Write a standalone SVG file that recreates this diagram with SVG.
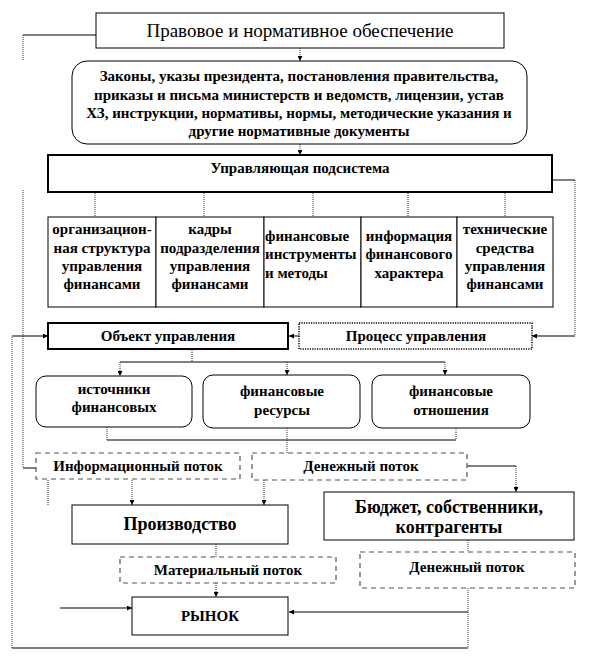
<svg xmlns="http://www.w3.org/2000/svg" width="600" height="660" viewBox="0 0 600 660">
<style>
text{font-family:"Liberation Serif","Times New Roman",serif;fill:#000;text-anchor:middle}
.b{font-weight:bold;font-size:15px}
.big{font-size:19px}
.bigb{font-size:18px;font-weight:bold}
.box{fill:#fff;stroke:#000;stroke-width:1}
.thick{fill:#fff;stroke:#000;stroke-width:2}
.dot{fill:#fff;stroke:#000;stroke-width:1.5;stroke-dasharray:1.2,1.2}
.dash{fill:#fff;stroke:#555;stroke-width:1.2;stroke-dasharray:5,4}
.c line,.c polyline{fill:none;stroke:#000;stroke-width:1}
.c .v{stroke-dasharray:1,1;stroke:#333}
</style>
<defs>
<marker id="a" viewBox="0 0 6 6" refX="6" refY="3" markerWidth="5" markerHeight="5" orient="auto" markerUnits="userSpaceOnUse"><path d="M0,0 L6,3 L0,6 z" fill="#000"/></marker>
<clipPath id="clip1"><rect x="36" y="376" width="156" height="48"/></clipPath>
</defs>

<g class="c" id="connectors">
<line class="v" x1="300" y1="48" x2="300" y2="61" marker-end="url(#a)"/>
<line class="v" x1="300" y1="144" x2="300" y2="155" marker-end="url(#a)"/>
<line x1="96" y1="35" x2="23" y2="35"/>
<line class="v" x1="23" y1="35" x2="23" y2="60"/>
<line class="v" x1="23" y1="190" x2="23" y2="468"/>
<line x1="23" y1="468" x2="36" y2="468"/>
<line x1="553" y1="180" x2="575" y2="180"/>
<line class="v" x1="575" y1="180" x2="575" y2="336"/>
<line x1="575" y1="336" x2="532" y2="336" marker-end="url(#a)"/>
<line x1="299" y1="336" x2="289" y2="336" marker-end="url(#a)"/>
<line class="v" x1="95" y1="193" x2="95" y2="217"/>
<line class="v" x1="204" y1="193" x2="204" y2="217"/>
<line class="v" x1="313" y1="193" x2="313" y2="217"/>
<line class="v" x1="408" y1="193" x2="408" y2="217"/>
<line class="v" x1="505" y1="193" x2="505" y2="217"/>
<line class="v" x1="468" y1="588" x2="468" y2="648"/>
<line x1="468" y1="648" x2="12" y2="648"/>
<line class="v" x1="12" y1="648" x2="12" y2="336"/>
<line x1="12" y1="336" x2="48" y2="336" marker-end="url(#a)"/>
<line x1="468" y1="612" x2="289" y2="612" marker-end="url(#a)"/>
<line x1="60" y1="608" x2="132" y2="608" marker-end="url(#a)"/>
<line class="v" x1="192" y1="350" x2="192" y2="362"/>
<line x1="120" y1="362" x2="445" y2="362"/>
<line class="v" x1="120" y1="362" x2="120" y2="376" marker-end="url(#a)"/>
<line class="v" x1="287" y1="362" x2="287" y2="375" marker-end="url(#a)"/>
<line class="v" x1="445" y1="362" x2="445" y2="375" marker-end="url(#a)"/>
<line class="v" x1="107" y1="427" x2="107" y2="440"/>
<line class="v" x1="456" y1="428" x2="456" y2="440"/>
<line x1="107" y1="440" x2="456" y2="440"/>
<line class="v" x1="287" y1="428" x2="287" y2="453"/>
<line class="v" x1="132" y1="480" x2="132" y2="505" marker-end="url(#a)"/>
<line class="v" x1="264" y1="480" x2="264" y2="505" marker-end="url(#a)"/>
<line class="v" x1="48" y1="480" x2="48" y2="505"/>
<line x1="467" y1="466" x2="516" y2="466"/>
<line class="v" x1="516" y1="466" x2="516" y2="492" marker-end="url(#a)"/>
<line class="v" x1="216" y1="544" x2="216" y2="557"/>
<line class="v" x1="216" y1="583" x2="216" y2="597" marker-end="url(#a)"/>
<line class="v" x1="468" y1="540" x2="468" y2="552"/>
</g>

<g id="n-pravovoe">
<rect class="box" x="96" y="13" width="408" height="35"/>
<text class="big" x="300" y="37">Правовое и нормативное обеспечение</text>
</g>

<g id="n-zakony">
<rect class="box" x="72" y="61" width="455" height="83" rx="15" ry="15"/>
<text class="b" x="299" y="81">Законы, указы  президента, постановления правительства,</text>
<text class="b" x="299" y="100">приказы и письма министерств и ведомств, лицензии, устав</text>
<text class="b" x="299" y="118">ХЗ, инструкции, нормативы, нормы, методические указания и</text>
<text class="b" x="299" y="136">другие нормативные документы</text>
</g>

<g id="n-upravl">
<rect class="thick" x="48" y="155" width="504" height="37"/>
<text class="b" x="300" y="173">Управляющая подсистема</text>
</g>

<g id="n-col1">
<rect class="box" x="48" y="217" width="108" height="90"/>
<text class="b" x="102" y="234">организацион-</text>
<text class="b" x="102" y="253">ная структура</text>
<text class="b" x="102" y="271">управления</text>
<text class="b" x="102" y="289">финансами</text>
</g>
<g id="n-col2">
<rect class="box" x="156" y="217" width="108" height="90"/>
<text class="b" x="210" y="234">кадры</text>
<text class="b" x="210" y="253">подразделения</text>
<text class="b" x="210" y="271">управления</text>
<text class="b" x="210" y="289">финансами</text>
</g>
<g id="n-col3">
<rect class="box" x="264" y="217" width="97" height="90"/>
<text class="b" x="265" y="241" style="text-anchor:start">финансовые</text>
<text class="b" x="265" y="259" style="text-anchor:start">инструменты</text>
<text class="b" x="265" y="278" style="text-anchor:start">и методы</text>
</g>
<g id="n-col4">
<rect class="box" x="361" y="217" width="96" height="90"/>
<text class="b" x="409" y="241">информация</text>
<text class="b" x="409" y="259">финансового</text>
<text class="b" x="409" y="278">характера</text>
</g>
<g id="n-col5">
<rect class="box" x="457" y="217" width="96" height="90"/>
<text class="b" x="505" y="234">технические</text>
<text class="b" x="505" y="253">средства</text>
<text class="b" x="505" y="271">управления</text>
<text class="b" x="505" y="289">финансами</text>
</g>

<g id="n-obekt">
<rect class="thick" x="48" y="323" width="240" height="26"/>
<text class="b" x="168" y="341">Объект управления</text>
</g>
<g id="n-process">
<rect class="dot" x="299" y="323" width="233" height="26"/>
<text class="b" x="416" y="341">Процесс управления</text>
</g>

<g id="n-istochniki">
<rect class="box" x="36" y="376" width="156" height="51" rx="10" ry="10"/>
<text class="b" x="114" y="394">источники</text>
<text class="b" x="114" y="412">финансовых</text>
<text class="b" x="114" y="431" clip-path="url(#clip1)">ресурсов</text>
</g>
<g id="n-resursy">
<rect class="box" x="203" y="375" width="157" height="53" rx="10" ry="10"/>
<text class="b" x="282" y="396">финансовые</text>
<text class="b" x="282" y="415">ресурсы</text>
</g>
<g id="n-otnosheniya">
<rect class="box" x="372" y="375" width="158" height="53" rx="10" ry="10"/>
<text class="b" x="451" y="396">финансовые</text>
<text class="b" x="451" y="415">отношения</text>
</g>

<g id="n-info">
<rect class="dash" x="36" y="453" width="204" height="26"/>
<text class="b" x="138" y="471">Информационный поток</text>
</g>
<g id="n-den1">
<rect class="dash" x="252" y="453" width="215" height="27"/>
<text class="b" x="361" y="471">Денежный поток</text>
</g>

<g id="n-proizv">
<rect class="box" x="72" y="505" width="216" height="39"/>
<text class="bigb" x="180" y="530">Производство</text>
</g>
<g id="n-budget">
<rect class="box" x="324" y="492" width="250" height="48"/>
<text class="bigb" x="449" y="513">Бюджет, собственники,</text>
<text class="bigb" x="449" y="533">контрагенты</text>
</g>

<g id="n-mater">
<rect class="dash" x="120" y="557" width="216" height="26"/>
<text class="b" x="228" y="575">Материальный поток</text>
</g>
<g id="n-den2">
<rect class="dash" x="360" y="552" width="215" height="36"/>
<text class="b" x="467" y="572">Денежный поток</text>
</g>

<g id="n-rynok">
<rect class="box" x="132" y="597" width="156" height="38"/>
<text class="b" x="210" y="621">РЫНОК</text>
</g>
</svg>
